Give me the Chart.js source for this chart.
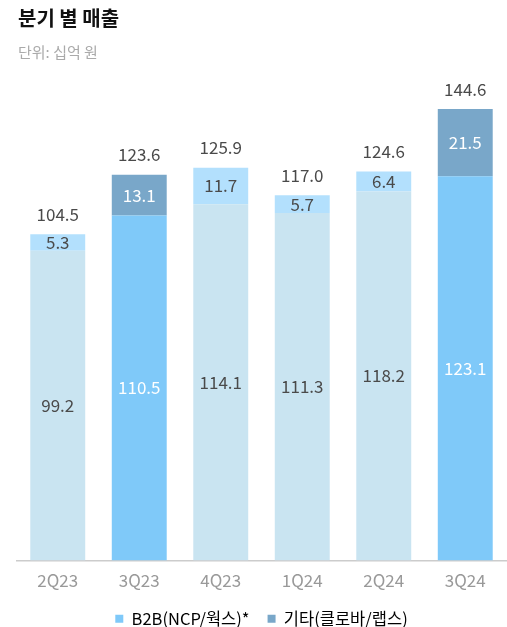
<!DOCTYPE html>
<html><head><meta charset="utf-8">
<script src="https://cdn.jsdelivr.net/npm/chart.js@4"></script>
<style>
html,body{margin:0;padding:0;background:#fff;}
#wrap{position:relative;width:507px;height:627px;}
#title{position:absolute;left:18px;top:3px;font:bold 20px "Noto Sans CJK KR";color:#111;}
#sub{position:absolute;left:18px;top:41px;font:15px "Noto Sans CJK KR";color:#aaa;}
canvas{position:absolute;left:0;top:0;}
</style></head>
<body><div id="wrap">
<canvas id="c" width="507" height="627"></canvas>
<div id="title">분기 별 매출</div>
<div id="sub">단위: 십억 원</div>
</div>
<script>
const categories = ['2Q23','3Q23','4Q23','1Q24','2Q24','3Q24'];
const b2b = [99.2, 110.5, 114.1, 111.3, 118.2, 123.1];
const other = [5.3, 13.1, 11.7, 5.7, 6.4, 21.5];
const totals = [104.5, 123.6, 125.9, 117.0, 124.6, 144.6];
const highlighted = ['3Q23','3Q24'];
const seriesNames = ['B2B(NCP/웍스)*', '기타(클로바/랩스)'];

const isHi = c => highlighted.includes(c);
const b2bColors = categories.map(c => isHi(c) ? '#7FC9F9' : '#C9E4F1');
const otherColors = categories.map(c => isHi(c) ? '#79A7C9' : '#B3E0FD');
const FONT = '"Noto Sans CJK KR"';

const labelPlugin = {
  id: 'labels',
  afterDatasetsDraw(chart) {
    const ctx = chart.ctx;
    ctx.save();
    ctx.font = '17px ' + FONT;
    ctx.textAlign = 'center';
    ctx.textBaseline = 'middle';
    chart.data.datasets.forEach((ds, di) => {
      chart.getDatasetMeta(di).data.forEach((bar, i) => {
        ctx.fillStyle = isHi(categories[i]) ? '#ffffff' : '#4a4a4a';
        ctx.fillText(ds.data[i].toFixed(1), bar.x, (bar.y + bar.base) / 2);
      });
    });
    const top = chart.getDatasetMeta(1).data;
    top.forEach((bar, i) => {
      ctx.fillStyle = '#4a4a4a';
      ctx.fillText(totals[i].toFixed(1), bar.x, bar.y - 20);
    });
    ctx.restore();
  }
};

new Chart(document.getElementById('c'), {
  type: 'bar',
  data: {
    labels: categories,
    datasets: [
      {label: seriesNames[0], data: b2b, backgroundColor: b2bColors, borderWidth: 0},
      {label: seriesNames[1], data: other, backgroundColor: otherColors, borderWidth: 0}
    ]
  },
  options: {
    responsive: false,
    animation: false,
    layout: {padding: {left: 17, right: 1, top: 61, bottom: -10}},
    datasets: {bar: {categoryPercentage: 1, barPercentage: 0.674}},
    scales: {
      x: {
        stacked: true,
        grid: {display: false},
        border: {color: '#cccccc', width: 1.5},
        ticks: {color: '#999999', font: {family: FONT, size: 17}, padding: 2},
        afterFit: s => { s.height = 32; }
      },
      y: {stacked: true, display: false, min: 0, max: 160}
    },
    plugins: {
      legend: {
        position: 'bottom',
        labels: {
          color: '#555555',
          font: {family: FONT, size: 16.5},
          boxWidth: 8, boxHeight: 8,
          padding: 18,
          generateLabels: chart => chart.data.datasets.map((ds, i) => ({
            text: ds.label,
            fillStyle: i === 0 ? '#7FC9F9' : '#79A7C9',
            strokeStyle: 'transparent',
            lineWidth: 0,
            datasetIndex: i
          }))
        }
      },
      tooltip: {enabled: false}
    }
  },
  plugins: [labelPlugin]
});
</script>
</body></html>
